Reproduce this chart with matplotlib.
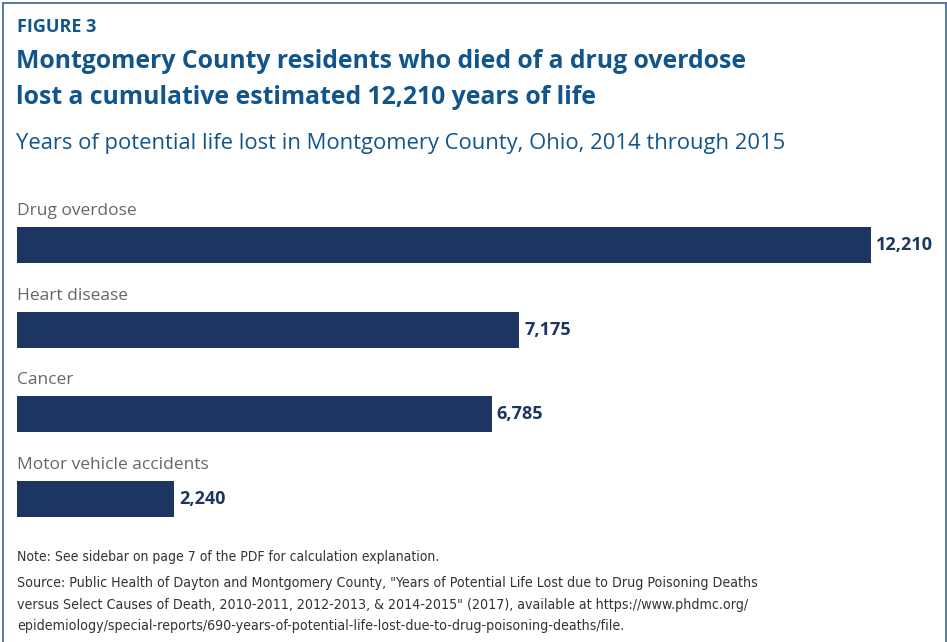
import matplotlib
matplotlib.use('Agg')
import matplotlib.pyplot as plt
from matplotlib.lines import Line2D

causes = ['Drug overdose', 'Heart disease', 'Cancer', 'Motor vehicle accidents']
years_lost = [12210, 7175, 6785, 2240]

title_col = '#11558c'
bar_col = '#1c3661'
W, H = 947, 642

plt.rcParams['font.family'] = ['Open Sans', 'DejaVu Sans']

fig = plt.figure(figsize=(W / 100, H / 100), dpi=100)

def fx(px):
    return px / W

def fy(py):
    return 1 - py / H

# frame: top, left, right only
border = '#4a6f99'
fig.add_artist(Line2D([fx(2.5), fx(945.5)], [fy(2.5), fy(2.5)], color=border, lw=1.3))
fig.add_artist(Line2D([fx(2.5), fx(2.5)], [fy(2.5), fy(H + 5)], color=border, lw=1.3))
fig.add_artist(Line2D([fx(945.5), fx(945.5)], [fy(2.5), fy(H + 5)], color=border, lw=1.3))

fig.text(fx(17), fy(27), 'FIGURE 3', color=title_col, fontsize=13, fontweight='bold', va='center')
fig.text(fx(16), fy(61), 'Montgomery County residents who died of a drug overdose',
         color=title_col, fontsize=17.8, fontweight='bold', va='center')
fig.text(fx(16), fy(97), 'lost a cumulative estimated 12,210 years of life',
         color=title_col, fontsize=17.8, fontweight='bold', va='center')
fig.text(fx(16), fy(143), 'Years of potential life lost in Montgomery County, Ohio, 2014 through 2015',
         color=title_col, fontsize=15.8, va='center')

# bars
ax = fig.add_axes([fx(17), fy(541.3), fx(854), (541.3 - 202.7) / H])
pos = list(range(len(causes)))
ax.barh(pos, years_lost, height=0.425, color=bar_col)
ax.set_xlim(0, 12210)
ax.set_ylim(len(causes) - 0.5, -0.5)
ax.axis('off')

for i, (c, v) in enumerate(zip(causes, years_lost)):
    ax.text(0, i - 0.40, c, color='#666666', fontsize=12.5, va='center', ha='left', clip_on=False)
    ax.text(v + 75, i, f'{v:,}', color=bar_col, fontsize=13, fontweight='bold',
            va='center', ha='left', clip_on=False)

note_font = ['DejaVu Sans']
fig.text(fx(17), fy(557), 'Note: See sidebar on page 7 of the PDF for calculation explanation.',
         color='#333333', fontsize=10, va='center', family=note_font, fontstretch='condensed')
source = ['Source: Public Health of Dayton and Montgomery County, "Years of Potential Life Lost due to Drug Poisoning Deaths',
          'versus Select Causes of Death, 2010-2011, 2012-2013, & 2014-2015" (2017), available at https://www.phdmc.org/',
          'epidemiology/special-reports/690-years-of-potential-life-lost-due-to-drug-poisoning-deaths/file.']
for k, line in enumerate(source):
    fig.text(fx(17), fy(583 + 21.5 * k), line, color='#333333', fontsize=10.2, va='center',
             family=note_font, fontstretch='condensed')

plt.savefig('out.png', dpi=100)
